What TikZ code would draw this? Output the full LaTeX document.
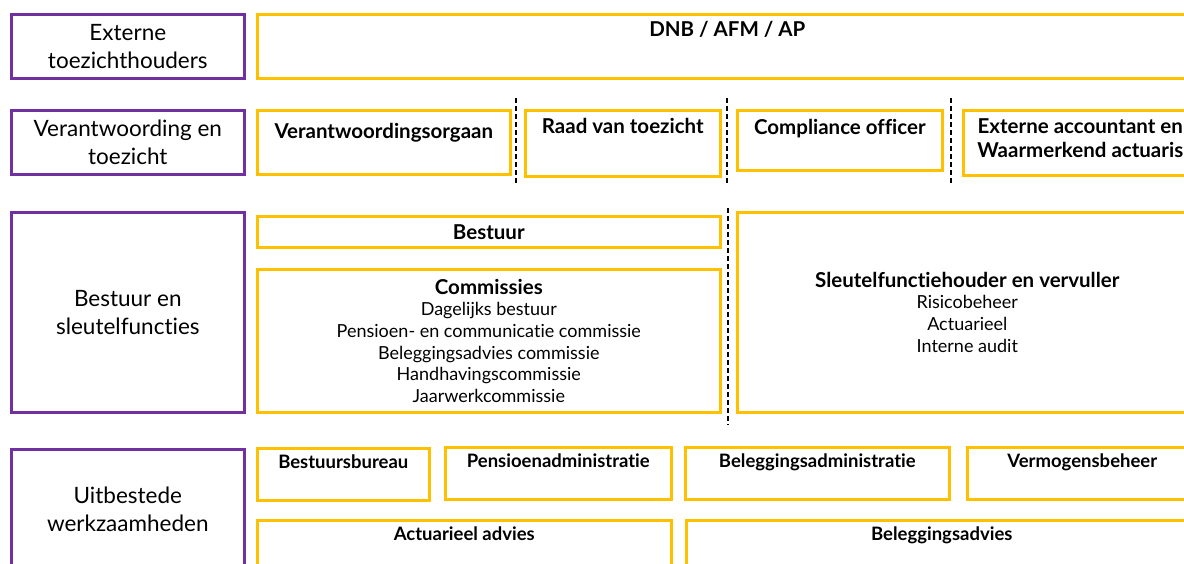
\documentclass[tikz,border=0pt]{standalone}
\usepackage{fontspec}
\setmainfont[Ligatures=NoCommon]{Lato}
\definecolor{paars}{HTML}{7030A0}
\definecolor{geel}{HTML}{FFC000}
\tikzset{
  laag/.style={draw=paars, line width=2.6pt, anchor=north west, inner sep=0pt,
    align=center, font=\fontsize{22.5}{28}\selectfont},
  vak/.style={draw=geel, line width=2.6pt, anchor=north west, inner sep=0pt, align=center},
  kop/.style={anchor=base, inner sep=0pt, align=center, font=\bfseries\fontsize{20.5}{24}\selectfont},
  klein/.style={anchor=base, inner sep=0pt, font=\bfseries\fontsize{18.5}{20}\selectfont},
  lijst/.style={font=\fontsize{18}{21.7}\selectfont},
  scheiding/.style={line width=1.4pt, dash pattern=on 5pt off 3pt}
}
\begin{document}
\begin{tikzpicture}[x=1pt, y=-1pt]
        \useasboundingbox (0,0) rectangle (1184,564);
        \clip (0,0) rectangle (1184,564);

        % lagen links
        \node[laag, minimum width=233, minimum height=64] (l1) at (10,13) {Externe\\toezichthouders};
        \node[laag, minimum width=233, minimum height=64] (l2) at (10,109) {Verantwoording en\\toezicht};
        \node[laag, minimum width=233, minimum height=200] (l3) at (10,211) {Bestuur en\\sleutelfuncties};
        \node[laag, minimum width=233, minimum height=120] (l4) at (10,448) {Uitbestede\\werkzaamheden};

        % externe toezichthouders
        \node[vak, minimum width=940, minimum height=64] (dnb) at (256,13) {};
        \node[kop] (tdnb) at ([yshift=-24]dnb.north) {DNB / AFM / AP};

        % verantwoording en toezicht
        \node[vak, minimum width=253, minimum height=64] (vo) at (256,109) {};
        \node[vak, minimum width=195, minimum height=66] (rvt) at (524,109) {};
        \node[vak, minimum width=205, minimum height=60] (co) at (736,109) {};
        \node[vak, minimum width=234, minimum height=65] (ea) at (962,109) {};
        \node[kop] (tvo) at ([yshift=-30]vo.north) {Verantwoordingsorgaan};
        \node[kop] (trvt) at ([yshift=-25]rvt.north) {Raad van toezicht};
        \node[kop] (tco) at ([yshift=-26]co.north) {Compliance officer};
        \node[kop] (tea) at ([yshift=-49]ea.north) {Externe accountant en\\Waarmerkend actuaris};
        \draw[scheiding] (516,98) -- (516,185);
        \draw[scheiding] (727,98) -- (727,185);
        \draw[scheiding] (951,98) -- (951,185);

        % bestuur en sleutelfuncties
        \node[vak, minimum width=463, minimum height=31, font=\bfseries\fontsize{20.5}{24}\selectfont] (bst) at (256,215) {Bestuur};
        \node[vak, minimum width=463, minimum height=143, lijst] (com) at (256,268)
          {{\bfseries\fontsize{20.5}{24}\selectfont Commissies}\\Dagelijks bestuur\\Pensioen- en communicatie commissie\\
           Beleggingsadvies commissie\\Handhavingscommissie\\Jaarwerkcommissie};
        \node[vak, minimum width=460, minimum height=200, lijst] (slf) at (736,211)
          {{\bfseries\fontsize{20.5}{24}\selectfont Sleutelfunctiehouder en vervuller}\\Risicobeheer\\Actuarieel\\Interne audit};
        \draw[scheiding] (728,208) -- (728,425);

        % uitbestede werkzaamheden
        \node[vak, minimum width=172, minimum height=52] (bb) at (256,447) {};
        \node[vak, minimum width=226, minimum height=52] (pa) at (444,446) {};
        \node[vak, minimum width=264, minimum height=52] (ba) at (684,446) {};
        \node[vak, minimum width=230, minimum height=52] (vb) at (966,446) {};
        \node[vak, minimum width=414, minimum height=50] (aa) at (256,519) {};
        \node[vak, minimum width=511, minimum height=50] (bla) at (685,519) {};
        \node[klein] (tbb) at ([yshift=-21]bb.north) {Bestuursbureau};
        \node[klein] (tpa) at ([yshift=-21]pa.north) {Pensioenadministratie};
        \node[klein] (tba) at ([yshift=-21]ba.north) {Beleggingsadministratie};
        \node[klein] (tvb) at ([yshift=-21]vb.north) {Vermogensbeheer};
        \node[klein] (taa) at ([yshift=-21]aa.north) {Actuarieel advies};
        \node[klein] (tbla) at ([yshift=-21]bla.north) {Beleggingsadvies};
    \end{tikzpicture}
\end{document}
